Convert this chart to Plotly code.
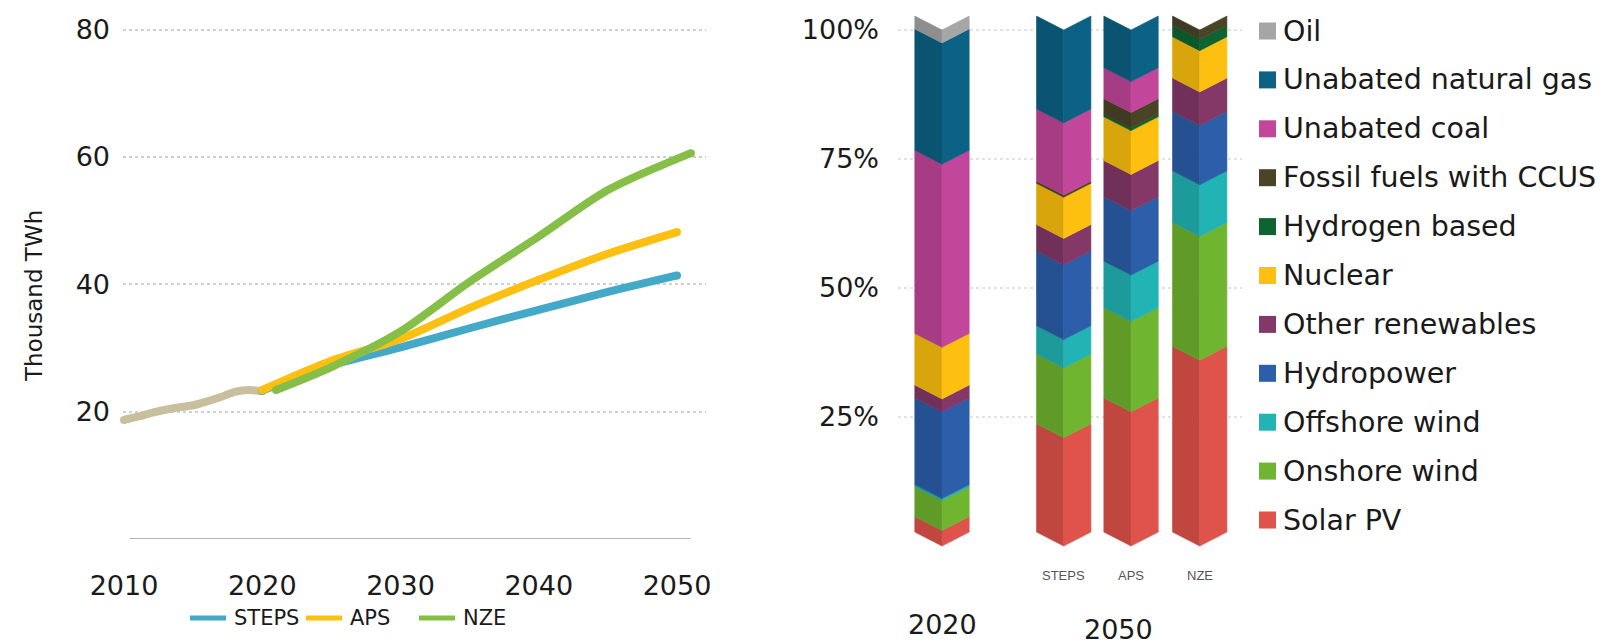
import plotly.graph_objects as go

# ---------------- data ----------------
# Electricity demand, thousand TWh
hist_years = list(range(2010, 2021))
hist_vals = [18.7, 19.2, 19.8, 20.3, 20.7, 21.0, 21.6, 22.3, 23.1, 23.4, 23.2]

steps_years = [2020, 2025, 2030, 2035, 2040, 2045, 2050]
steps_vals = [23.3, 27.3, 30.1, 33.1, 36.0, 38.8, 41.4]

aps_years = [2020, 2025, 2030, 2035, 2040, 2045, 2050]
aps_vals = [23.4, 28.0, 31.4, 36.3, 40.7, 44.8, 48.2]

nze_years = [2021, 2025, 2030, 2035, 2040, 2045, 2051]
nze_vals = [23.4, 27.0, 32.6, 40.4, 47.5, 54.8, 60.6]

x_ticks = [2010, 2020, 2030, 2040, 2050]
y_ticks = [20, 40, 60, 80]

# Generation mix, % share (stacked bottom -> top)
mix_bars = ["2020", "STEPS", "APS", "NZE"]
solar_pv = [3.0, 21.0, 26.0, 36.0]
onshore_wind = [5.8, 13.5, 17.5, 24.0]
offshore_wind = [0.4, 5.5, 9.0, 10.0]
hydropower = [16.8, 14.5, 12.5, 11.5]
other_renewables = [2.5, 5.1, 7.0, 6.5]
nuclear = [10.0, 8.0, 8.5, 8.0]
hydrogen_based = [0.0, 0.0, 0.5, 2.2]
fossil_ccus = [0.0, 0.4, 3.0, 1.8]
unabated_coal = [35.5, 14.0, 6.0, 0.0]
unabated_gas = [23.5, 18.0, 10.0, 0.0]
oil = [2.5, 0.0, 0.0, 0.0]

share_ticks = [25, 50, 75, 100]

# ---------------- styling ----------------
W, H = 1602, 644
FONT = "DejaVu Sans"
TXT = "#1a1a1a"

line_colors = {"hist": "#c9bf9f", "STEPS": "#44a9c6", "APS": "#fdbf12", "NZE": "#86bf47"}

mix_series = [
    ("Solar PV", solar_pv, "#df534b"),
    ("Onshore wind", onshore_wind, "#70b52f"),
    ("Offshore wind", offshore_wind, "#22b4b4"),
    ("Hydropower", hydropower, "#2c5ea9"),
    ("Other renewables", other_renewables, "#833868"),
    ("Nuclear", nuclear, "#fdc010"),
    ("Hydrogen based", hydrogen_based, "#0d6431"),
    ("Fossil fuels with CCUS", fossil_ccus, "#4a4427"),
    ("Unabated coal", unabated_coal, "#c2479a"),
    ("Unabated natural gas", unabated_gas, "#0c6284"),
    ("Oil", oil, "#a6a6a6"),
]

bar_pos = [0.0, 1.79, 2.78, 3.79]   # x positions on the mix axis
half_w = 0.40                       # half bar width (x units)
chevron = 2.7                       # chevron depth (% units)


def shade(hex_color, k):
    r, g, b = (int(hex_color[i:i + 2], 16) for i in (1, 3, 5))
    return "#%02x%02x%02x" % (int(r * k), int(g * k), int(b * k))


def px2paper_x(p):
    return p / W


def px2paper_y(p):
    return 1 - p / H


fig = go.Figure()

# ---------------- left: demand lines ----------------
def add_line(xs, ys, color):
    fig.add_trace(go.Scatter(
        x=xs, y=ys, mode="lines", line=dict(color=color, width=8, shape="spline", smoothing=0.8),
        xaxis="x", yaxis="y", showlegend=False, hoverinfo="skip"))
    # round end caps
    fig.add_trace(go.Scatter(
        x=[xs[0], xs[-1]], y=[ys[0], ys[-1]], mode="markers",
        marker=dict(color=color, size=8, line=dict(width=0)),
        xaxis="x", yaxis="y", showlegend=False, hoverinfo="skip", cliponaxis=False))


add_line(hist_years, hist_vals, line_colors["hist"])
add_line(steps_years, steps_vals, line_colors["STEPS"])
add_line(aps_years, aps_vals, line_colors["APS"])
add_line(nze_years, nze_vals, line_colors["NZE"])

# ---------------- right: chevron stacked bars ----------------
cum = [0.0] * len(mix_bars)
for name, vals, color in mix_series:
    lx, ly, rx, ry = [], [], [], []
    for j, v in enumerate(vals):
        lo, hi = cum[j], cum[j] + v
        cum[j] = hi
        if v <= 0:
            continue
        c = bar_pos[j]
        lx += [c - half_w, c, c, c - half_w, c - half_w, None]
        ly += [lo + chevron, lo, hi, hi + chevron, lo + chevron, None]
        rx += [c, c + half_w, c + half_w, c, c, None]
        ry += [lo, lo + chevron, hi + chevron, hi, lo, None]
    dark = shade(color, 0.86)
    fig.add_trace(go.Scatter(x=lx, y=ly, mode="lines", fill="toself", fillcolor=dark,
                             line=dict(color=dark, width=0.6), xaxis="x2", yaxis="y2",
                             showlegend=False, hoverinfo="skip"))
    fig.add_trace(go.Scatter(x=rx, y=ry, mode="lines", fill="toself", fillcolor=color,
                             line=dict(color=color, width=0.6), xaxis="x2", yaxis="y2",
                             showlegend=False, hoverinfo="skip"))

# ---------------- axes ----------------
yr0_px, yr_step = 124.0, 13.825       # pixel of 2010 and pixels per year
l_left, l_right = 123, 706
x_range = [2010 + (l_left - yr0_px) / yr_step, 2010 + (l_right - yr0_px) / yr_step]
y0_px, y_unit = 539.0, 6.3675
l_top = 20
y_range = [0, (y0_px - l_top) / y_unit]

r_left, r_right = 898, 1242
bar0_px, bar_unit = 942.0, 68.0
x2_range = [(r_left - bar0_px) / bar_unit, (r_right - bar0_px) / bar_unit]
s0_px, s_unit = 546.0, 5.16
r_top, r_bot = 8, 552
y2_range = [-(r_bot - s0_px) / s_unit, (s0_px - r_top) / s_unit]

grid_col = "#cfcfcf"
TICK = 27

fig.update_layout(
    width=W, height=H, margin=dict(l=0, r=0, t=0, b=0, autoexpand=False),
    paper_bgcolor="white", plot_bgcolor="white",
    font=dict(family=FONT, color=TXT),
    xaxis=dict(domain=[px2paper_x(l_left), px2paper_x(l_right)], range=x_range,
               tickvals=x_ticks, ticktext=[str(t) for t in x_ticks], showgrid=False,
               zeroline=False, showline=False, ticks="", tickfont=dict(size=TICK, color=TXT),
               ticklabelstandoff=28, fixedrange=True, automargin=False),
    yaxis=dict(domain=[px2paper_y(y0_px), px2paper_y(l_top)], range=y_range,
               tickvals=y_ticks, ticktext=[str(t) for t in y_ticks], showgrid=True,
               gridcolor=grid_col, griddash="dot", gridwidth=1.5, zeroline=False,
               ticks="", tickfont=dict(size=TICK, color=TXT), ticklabelstandoff=12,
               fixedrange=True, automargin=False),
    xaxis2=dict(domain=[px2paper_x(r_left), px2paper_x(r_right)], range=x2_range,
                showticklabels=False, showgrid=False, zeroline=False, showline=False,
                ticks="", fixedrange=True, anchor="y2", automargin=False),
    yaxis2=dict(domain=[px2paper_y(r_bot), px2paper_y(r_top)], range=y2_range,
                tickvals=share_ticks, ticktext=["%d%%" % t for t in share_ticks],
                showgrid=True, gridcolor="#e2e2e2", griddash="dot", gridwidth=1.5,
                zeroline=False, ticks="", tickfont=dict(size=TICK, color=TXT),
                ticklabelstandoff=18, anchor="x2", fixedrange=True, automargin=False),
)

shapes = []
annotations = []

# y-axis title of the line chart
annotations.append(dict(text="Thousand TWh", xref="paper", yref="paper", x=px2paper_x(34),
                        y=px2paper_y(296), xanchor="center", yanchor="middle", textangle=-90,
                        showarrow=False, font=dict(size=23, color=TXT)))

# x-axis baseline of the line chart
shapes.append(dict(type="line", xref="x", yref="y", x0=2010.4, x1=2051.0, y0=0, y1=0,
                   line=dict(color="#b5b5b5", width=2), layer="below"))

# bottom legend for the scenarios
scen_legend = [("STEPS", 190, 232), ("APS", 306, 348), ("NZE", 419, 461)]
for name, x0, tx in scen_legend:
    shapes.append(dict(type="line", xref="paper", yref="paper",
                       x0=px2paper_x(x0), x1=px2paper_x(x0 + 36),
                       y0=px2paper_y(618), y1=px2paper_y(618),
                       line=dict(color=line_colors[name], width=5)))
    annotations.append(dict(text=name, xref="paper", yref="paper", x=px2paper_x(tx),
                            y=px2paper_y(618), xanchor="left", yanchor="middle",
                            showarrow=False, font=dict(size=21, color=TXT)))

# right legend (top -> bottom is reverse of stacking)
leg_top, leg_step = 31.0, 48.9
for k, (name, _, color) in enumerate(reversed(mix_series)):
    cy = leg_top + k * leg_step
    shapes.append(dict(type="rect", xref="paper", yref="paper",
                       x0=px2paper_x(1259), x1=px2paper_x(1276),
                       y0=px2paper_y(cy - 8.5), y1=px2paper_y(cy + 8.5),
                       fillcolor=color, line=dict(width=0)))
    annotations.append(dict(text=name, xref="paper", yref="paper", x=px2paper_x(1281),
                            y=px2paper_y(cy), xanchor="left", yanchor="middle",
                            showarrow=False, font=dict(size=28.5, color=TXT)))

# scenario labels under the 2050 bars
for j, lab in enumerate(mix_bars):
    if j == 0:
        continue
    annotations.append(dict(text=lab, xref="x2", yref="paper", x=bar_pos[j], y=px2paper_y(575),
                            xanchor="center", yanchor="middle", showarrow=False,
                            font=dict(size=13, color="#555555", family="Liberation Sans Narrow, Liberation Sans")))

# year labels below the bars
annotations.append(dict(text="2020", xref="x2", yref="paper", x=bar_pos[0], y=px2paper_y(624),
                        xanchor="center", yanchor="middle", showarrow=False,
                        font=dict(size=TICK, color=TXT)))
annotations.append(dict(text="2050", xref="paper", yref="paper", x=px2paper_x(1118),
                        y=px2paper_y(629), xanchor="center", yanchor="middle", showarrow=False,
                        font=dict(size=TICK, color=TXT)))

fig.update_layout(shapes=shapes, annotations=annotations)

fig.write_html("out.html")
